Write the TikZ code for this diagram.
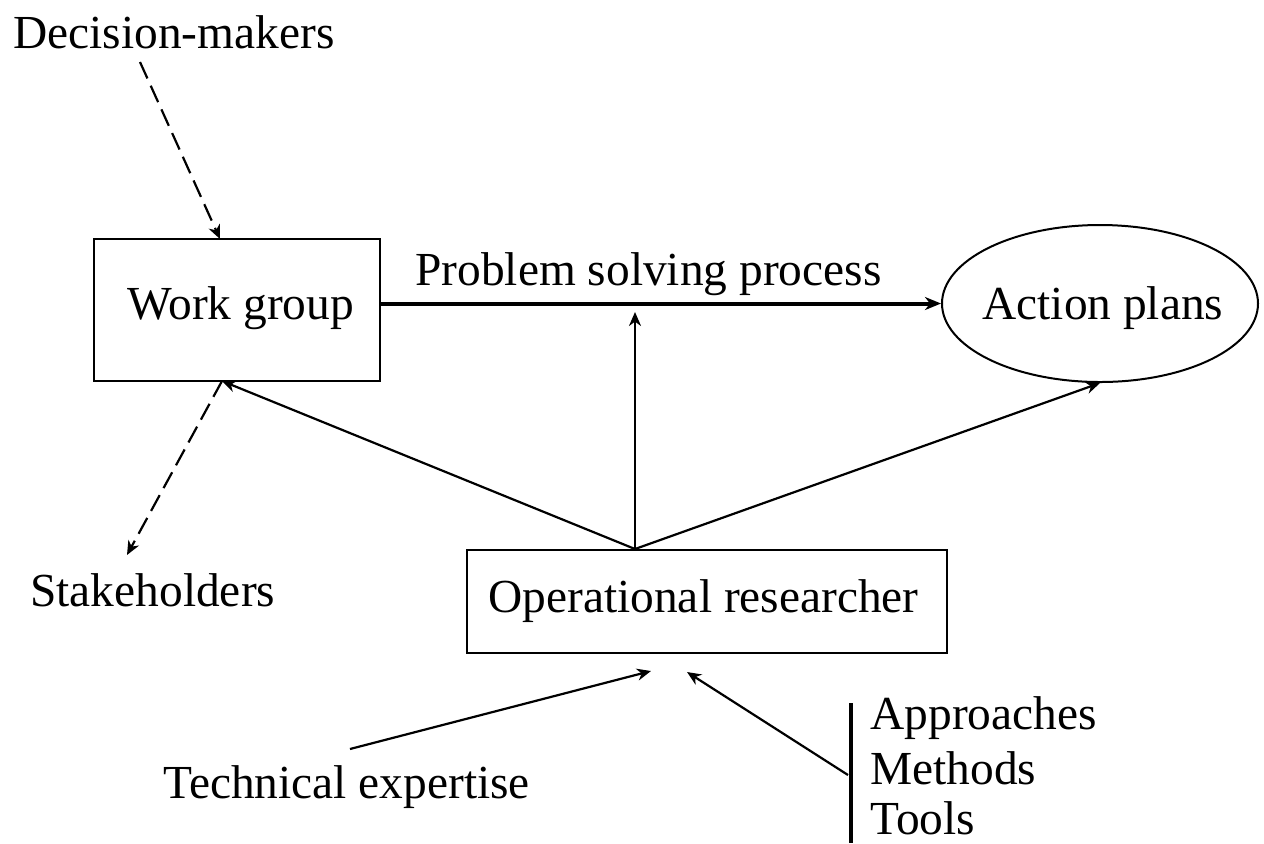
\documentclass[tikz,border=0pt]{standalone}
\usepackage{fontspec}
\setmainfont{Liberation Serif}
\usetikzlibrary{arrows.meta,shapes.geometric}
\begin{document}
\begin{tikzpicture}[x=0.5pt,y=-0.5pt,
  every node/.style={font=\fontsize{23.7}{27.5}\selectfont},
  lbl/.style={anchor=base west,inner sep=0pt},
  boxnode/.style={draw,line width=1pt,inner sep=0pt},
  arr/.style={line width=1.1pt,-{Stealth[length=7pt,width=6pt,inset=2.2pt]}},
  dsh/.style={arr,dash pattern=on 9pt off 4pt}]
\useasboundingbox (0,0) rectangle (1264,843);
% nodes
\node[boxnode,minimum width=143pt,minimum height=71pt] (wg) at (237,310) {};
\node[lbl] (wgt) at (127,319) {Work group};
\node[boxnode,minimum width=240pt,minimum height=51.5pt] (or) at (707,601) {};
\node[lbl] (ort) at (488,612) {Operational researcher};
\node[draw,line width=1pt,ellipse,inner sep=0pt,minimum width=158pt,minimum height=78.5pt] (ap) at (1100,303.5) {};
\node[lbl] (apt) at (982,319) {Action plans};
\node[lbl] (dm) at (13,48) {Decision-makers};
\node[lbl] (sh) at (30,606) {Stakeholders};
\node[lbl] (psp) at (415,285) {Problem solving process};
\node[lbl] (te) at (163,798) {Technical expertise};
\node[lbl] (amt) at (870,729) {Approaches};
\node[lbl] (mt) at (870,784) {Methods};
\node[lbl] (tl) at (870,834) {Tools};
% coordinates
\coordinate (dmstart) at (140,62);
\coordinate (wgtop) at (220,239);
\coordinate (wgbot) at (222,381);
\coordinate (shend) at (127,555);
\coordinate (apex) at (635,549);
\coordinate (vtop) at (635,312);
\coordinate (testart) at (350,749);
\coordinate (teend) at (651,671);
\coordinate (amstart) at (848,775);
\coordinate (amend) at (687,672);
\coordinate (bartop) at (851,703);
\coordinate (barbot) at (851,843);
% connectors
\draw[dsh] (dmstart) -- (wgtop);
\draw[dsh] (wgbot) -- (shend);
\draw[line width=2pt,-{Stealth[length=8pt,width=6.5pt,inset=2.5pt]}] (wg.east |- ap.west) -- (ap.west);
\draw[arr] (apex) -- (vtop);
\draw[arr] (apex) -- (wgbot);
\draw[arr] (apex) -- (ap.south);
\draw[arr] (testart) -- (teend);
\draw[arr] (amstart) -- (amend);
\draw[line width=2pt] (bartop) -- (barbot);
\end{tikzpicture}
\end{document}
